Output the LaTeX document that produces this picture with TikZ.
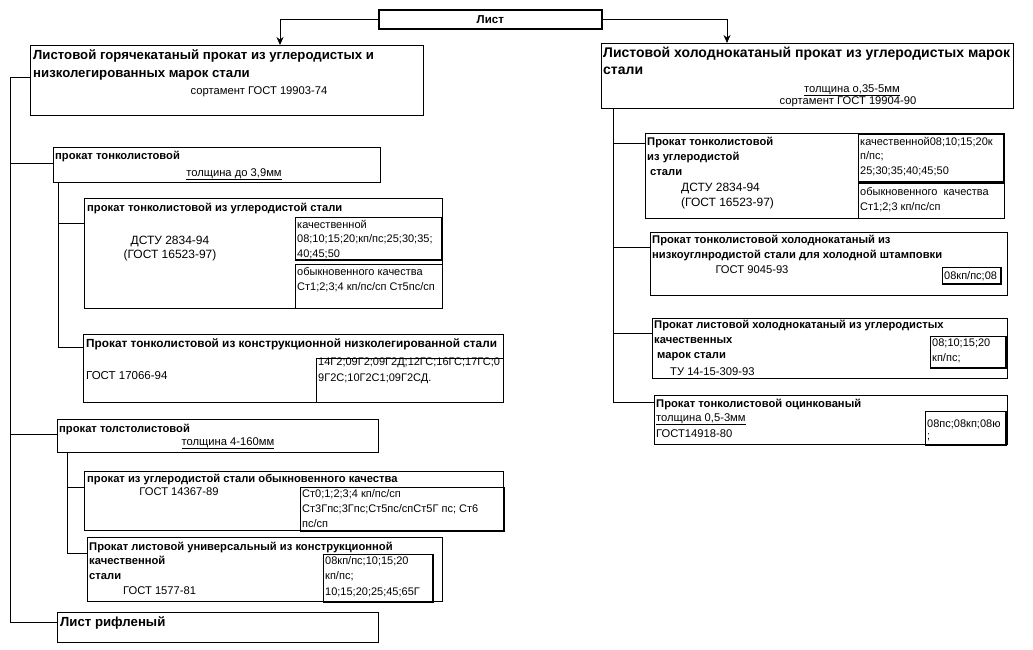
\documentclass[tikz,border=0pt]{standalone}
\usepackage{fontspec}
\setmainfont{Liberation Sans}
\usetikzlibrary{arrows.meta}
\begin{document}
\begin{tikzpicture}[x=1pt, y=-1pt]
    % Style definition for the boxes and texts
    \tikzset{box/.style={rectangle, draw=black, line width=0.7pt, anchor=north west, inner sep=0pt},
             cell/.style={box, line width=0.8pt},
             bighead/.style={anchor=base west, inner sep=0pt, align=left, font=\bfseries\fontsize{13.2}{18}\selectfont},
             ttl/.style={anchor=base west, inner sep=0pt, align=left, font=\bfseries\fontsize{11.2}{15}\selectfont},
             note/.style={anchor=base west, inner sep=0pt, align=left, font=\fontsize{11.2}{15}\selectfont}}
    \tikzstyle{arrow} = [line width=0.7pt,->,>={Stealth[length=8pt,width=7pt]}]
    \tikzstyle{link} = [line width=0.7pt]

    \useasboundingbox (0,0) rectangle (1033,649);

    % Root box
    \node (list) [box, line width=1.6pt, minimum width=223pt, minimum height=19pt,
                  font=\bfseries\fontsize{11.5}{13}\selectfont] at (378,9) {Лист};

    % Main boxes (multi-line texts sit on the baseline of their last line)
    \node (hot) [box, minimum width=393pt, minimum height=70pt] at (30,45) {};
    \node (hottxt) [bighead] at (33,77) {Листовой горячекатаный прокат из углеродистых и\\низколегированных марок стали};
    \node (hotgost) [note, anchor=base] at (259,94) {сортамент ГОСТ 19903-74};

    \node (cold) [box, minimum width=412pt, minimum height=65pt] at (601,43) {};
    \node (coldtxt) [bighead, font=\bfseries\fontsize{14}{17.5}\selectfont] at (603,74.5) {Листовой холоднокатаный прокат из углеродистых марок\\стали};
    \node (coldthk) [note, anchor=base] at (852,92) {\underline{толщина о,35-5мм}};
    \node (coldgost) [note, anchor=base] at (848,104) {сортамент ГОСТ 19904-90};

    % Hot rolled: thin sheet
    \node (thin) [box, minimum width=327pt, minimum height=35pt] at (53,147) {};
    \node (thintxt) [ttl] at (55,159) {прокат тонколистовой};
    \node (thinthk) [note, anchor=base] at (234,176) {\underline{толщина до 3,9мм}};

    \node (thinC) [box, minimum width=358pt, minimum height=110pt] at (84,198) {};
    \node (thinCtxt) [ttl] at (87,211) {прокат тонколистовой из углеродистой стали};
    \node (thinCgost) [note, anchor=base, align=center, font=\fontsize{12}{14.5}\selectfont] at (170,258.5) {ДСТУ 2834-94\\(ГОСТ 16523-97)};
    \node (thinCa) [cell, minimum width=146pt, minimum height=42pt] at (295,217) {};
    \node (thinCatxt) [note, font=\fontsize{11}{14.5}\selectfont] at (297,257) {качественной\\08;10;15;20;кп/пс;25;30;35;\\40;45;50};
    \node (thinCb) [cell, minimum width=147pt, minimum height=44pt] at (295,264) {};
    \node (thinCbtxt) [note, font=\fontsize{11}{14.5}\selectfont] at (297,290) {обыкновенного качества\\Ст1;2;3;4 кп/пс/сп Ст5пс/сп};

    \node (thinL) [box, minimum width=420pt, minimum height=68pt] at (83,334) {};
    \node (thinLtxt) [ttl, font=\bfseries\fontsize{11.8}{15}\selectfont] at (86,347) {Прокат тонколистовой из конструкционной низколегированной стали};
    \node (thinLgost) [note, font=\fontsize{11.5}{15}\selectfont] at (86,379) {ГОСТ 17066-94};
    \node (thinLa) [cell, minimum width=187pt, minimum height=44pt] at (316,358) {};
    \node (thinLatxt) [note, font=\fontsize{11}{16}\selectfont] at (318,381) {14Г2;09Г2;09Г2Д;12ГС;16ГС;17ГС;0\\9Г2С;10Г2С1;09Г2СД.};

    % Hot rolled: thick sheet
    \node (thick) [box, minimum width=321pt, minimum height=33pt] at (57,419) {};
    \node (thicktxt) [ttl] at (59,432) {прокат толстолистовой};
    \node (thickthk) [note, anchor=base] at (228,445) {\underline{толщина 4-160мм}};

    \node (thickC) [box, minimum width=419pt, minimum height=59pt] at (84,471) {};
    \node (thickCtxt) [ttl] at (87,482) {прокат из углеродистой стали обыкновенного качества};
    \node (thickCgost) [note, anchor=base] at (179,495) {ГОСТ 14367-89};
    \node (thickCa) [cell, minimum width=203pt, minimum height=43pt] at (300,487) {};
    \node (thickCatxt) [note, font=\fontsize{11}{15}\selectfont] at (302,527) {Ст0;1;2;3;4 кп/пс/сп\\Ст3Гпс;3Гпс;Ст5пс/спСт5Г пс; Ст6\\пс/сп};

    \node (thickU) [box, minimum width=355pt, minimum height=64pt] at (87,537) {};
    \node (thickUtxt) [ttl, font=\bfseries\fontsize{11.2}{14.5}\selectfont] at (89,579) {Прокат листовой универсальный из конструкционной\\качественной\\стали};
    \node (thickUgost) [note] at (123,594) {ГОСТ 1577-81};
    \node (thickUa) [cell, minimum width=109pt, minimum height=47pt] at (323,554) {};
    \node (thickUatxt) [note, font=\fontsize{11}{15.5}\selectfont] at (325,595) {08кп/пс;10;15;20\\кп/пс;\\10;15;20;25;45;65Г};

    \node (rifl) [box, minimum width=321pt, minimum height=30pt] at (57,612) {};
    \node (rifltxt) [bighead] at (60,626) {Лист рифленый};

    % Cold rolled branch
    \node (rA) [box, minimum width=359pt, minimum height=85pt] at (645,133) {};
    \node (rAtxt) [ttl] at (647,175) {Прокат тонколистовой\\из углеродистой\\\hspace{3pt}стали};
    \node (rAgost) [note, font=\fontsize{12}{15}\selectfont] at (681,206) {ДСТУ 2834-94\\(ГОСТ 16523-97)};
    \node (rAa) [cell, minimum width=145pt, minimum height=47pt] at (858,134) {};
    \node (rAatxt) [note, font=\fontsize{11}{14.5}\selectfont] at (860,174) {качественной08;10;15;20к\\п/пс;\\25;30;35;40;45;50};
    \node (rAb) [cell, minimum width=146pt, minimum height=35pt] at (858,183) {};
    \node (rAbtxt) [note, font=\fontsize{11}{15}\selectfont] at (860,210) {обыкновенного\ \ качества\\Ст1;2;3 кп/пс/сп};

    \node (rB) [box, minimum width=357pt, minimum height=63pt] at (650,232) {};
    \node (rBtxt) [ttl] at (652,258) {Прокат тонколистовой холоднокатаный из\\низкоуглнродистой стали для холодной штамповки};
    \node (rBgost) [note, anchor=base] at (752,273) {ГОСТ 9045-93};
    \node (rBa) [cell, minimum width=58pt, minimum height=16pt] at (942,267) {};
    \node (rBatxt) [note, font=\fontsize{11}{15}\selectfont] at (944,279) {08кп/пс;08};

    \node (rC) [box, minimum width=355pt, minimum height=60pt] at (652,318) {};
    \node (rCtxt) [ttl] at (654,358) {Прокат листовой холоднокатаный из углеродистых\\качественных\\\hspace{3pt}марок стали};
    \node (rCgost) [note] at (667,375) {\hspace{3pt}ТУ 14-15-309-93};
    \node (rCa) [cell, minimum width=75pt, minimum height=31pt] at (930,336) {};
    \node (rCatxt) [note, font=\fontsize{11}{15}\selectfont] at (932,361) {08;10;15;20\\кп/пс;};

    \node (rD) [box, minimum width=353pt, minimum height=49pt] at (654,395) {};
    \node (rDtxt) [ttl] at (656,407) {Прокат тонколистовой оцинкованый};
    \node (rDgost) [note, font=\fontsize{11.2}{16}\selectfont] at (656,437) {\underline{толщина 0,5-3мм}\\ГОСТ14918-80};
    \node (rDa) [cell, minimum width=80pt, minimum height=33pt] at (925,411) {};
    \node (rDatxt) [note, font=\fontsize{11}{12}\selectfont] at (927,439) {08пс;08кп;08ю\\;};

    % Thicker right and bottom edges of the grade cells
    \foreach \c in {thinCa,thickCa,thickUa,rAa,rBa,rCa,rDa}
        \draw [line width=1.6pt] (\c.north east) -- (\c.south east) -- (\c.south west);

    % Arrows from the root
    \coordinate (hotin) at (280,45);
    \coordinate (coldin) at (727,43);
    \draw [arrow] (list.west) -| (hotin);
    \draw [arrow] (list.east) -| (coldin);

    % Left trunk
    \coordinate (ltrunk) at (10,77);
    \draw [link] ([yshift=-32pt]hot.north west) -- (ltrunk) |- ([yshift=-10pt]rifl.north west);
    \draw [link] ([yshift=-16pt]thin.north west) -| (ltrunk);
    \draw [link] ([yshift=-15pt]thick.north west) -| (ltrunk);

    % Sub trunks
    \coordinate (thinsub) at ([xshift=5pt]thin.south west);
    \draw [link] (thinsub) |- ([yshift=-25pt]thinC.north west);
    \draw [link] (thinsub) |- ([yshift=-13pt]thinL.north west);
    \coordinate (thicksub) at ([xshift=10pt]thick.south west);
    \draw [link] (thicksub) |- ([yshift=-16pt]thickC.north west);
    \draw [link] (thicksub) |- ([yshift=-16pt]thickU.north west);

    % Right trunk
    \coordinate (rtrunk) at (613,108);
    \draw [link] (rtrunk) |- ([yshift=-10pt]rA.north west);
    \draw [link] (rtrunk) |- ([yshift=-15pt]rB.north west);
    \draw [link] (rtrunk) |- ([yshift=-15pt]rC.north west);
    \draw [link] (rtrunk) |- ([yshift=-7pt]rD.north west);

\end{tikzpicture}
\end{document}
